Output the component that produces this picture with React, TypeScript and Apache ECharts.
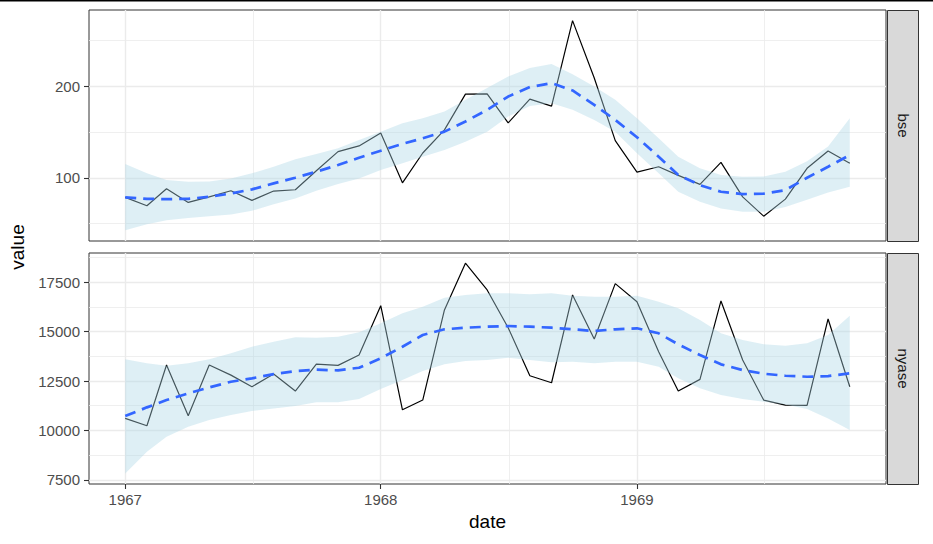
import React, { useEffect, useRef } from "react";
import * as echarts from "echarts";

const DATES = [
  "1967-01-01", "1967-02-01", "1967-03-01", "1967-04-01", "1967-05-01", "1967-06-01",
  "1967-07-01", "1967-08-01", "1967-09-01", "1967-10-01", "1967-11-01", "1967-12-01",
  "1968-01-01", "1968-02-01", "1968-03-01", "1968-04-01", "1968-05-01", "1968-06-01",
  "1968-07-01", "1968-08-01", "1968-09-01", "1968-10-01", "1968-11-01", "1968-12-01",
  "1969-01-01", "1969-02-01", "1969-03-01", "1969-04-01", "1969-05-01", "1969-06-01",
  "1969-07-01", "1969-08-01", "1969-09-01", "1969-10-01", "1969-11-01",
];

const BSE_VALUE = [78.6, 69.4, 88, 73.1, 79.2, 85.8, 75.3, 85.5, 86.9, 107.7, 128.5, 134.7, 148.9, 94.5, 127, 152.2, 191.2, 191.6, 159.8, 185.8, 178.1, 271.4, 208.8, 140.5, 106.2, 112, 102.6, 92.8, 116.8, 79.2, 58.1, 76.7, 110.3, 129.2, 115.8];
const BSE_FIT = [78.6, 77.0, 76.7, 77.0, 79.2, 82.9, 87.3, 93.9, 100, 106.6, 113.9, 121.9, 129.5, 136.9, 143.1, 150.3, 161.3, 174.1, 188.6, 198.9, 203.3, 195.2, 179.5, 163.1, 144.2, 123, 103, 92, 84.7, 82.2, 82.6, 86.5, 100, 112, 124.8];
const BSE_LOWER = [42.8, 49.3, 53.7, 56.2, 58.1, 60, 63.9, 71.2, 77.5, 85.8, 93.1, 99.3, 108.4, 115.8, 123, 130.3, 139.4, 150.3, 166.7, 178.4, 181.4, 174.1, 163.1, 150.3, 126.7, 104.8, 84.7, 73.7, 66.5, 62.8, 62.8, 68, 76, 84, 90.2];
const BSE_UPPER = [115, 104.8, 97.5, 95.6, 95.9, 99.3, 104.8, 112, 120.1, 126, 132.2, 141.2, 150.3, 159.5, 165, 172.2, 185, 197.8, 210.5, 219.7, 224, 213, 199.6, 185, 165, 143.1, 123, 110.3, 103, 101.1, 101.5, 106.6, 118, 134, 165];

const NYASE_VALUE = [10610, 10235, 13310, 10742, 13310, 12800, 12211, 12854, 11993, 13361, 13293, 13817, 16315, 11046, 11537, 16097, 18463, 17110, 15200, 12768, 12414, 16857, 14628, 17429, 16517, 13984, 11993, 12586, 16553, 13564, 11537, 11284, 11267, 15641, 12211];
const NYASE_FIT = [10727, 11168, 11537, 11875, 12179, 12465, 12637, 12854, 13006, 13074, 13042, 13174, 13650, 14237, 14830, 15119, 15200, 15250, 15286, 15250, 15200, 15119, 15033, 15119, 15170, 14916, 14359, 13817, 13346, 13057, 12870, 12768, 12718, 12751, 12890];
const NYASE_LOWER = [7824, 8918, 9678, 10185, 10524, 10777, 10980, 11117, 11233, 11421, 11421, 11588, 12094, 12550, 13006, 13346, 13513, 13564, 13680, 13564, 13447, 13480, 13396, 13480, 13480, 13224, 12637, 12130, 11791, 11588, 11451, 11319, 11081, 10610, 10017];
const NYASE_UPPER = [13599, 13396, 13275, 13396, 13599, 13903, 14237, 14491, 14714, 14694, 14744, 14967, 15423, 15930, 16264, 16720, 16857, 16943, 16943, 16892, 16943, 16821, 16771, 16771, 16821, 16517, 16183, 15590, 14916, 14577, 14359, 14290, 14409, 14830, 15808];

const X_BREAKS = ["1967-01-01", "1968-01-01", "1969-01-01"];
const X_MINOR_BREAKS = ["1967-07-02T12:00:00Z", "1968-07-02T00:00:00Z", "1969-07-02T12:00:00Z"];
const BSE_Y_BREAKS = [100, 200];
const BSE_Y_MINOR = [50, 150, 250];
const BSE_Y_LIMITS = [31, 283];
const NYASE_Y_BREAKS = [7500, 10000, 12500, 15000, 17500];
const NYASE_Y_MINOR = [8750, 11250, 13750, 16250, 18750];
const NYASE_Y_LIMITS = [7290, 18980];
const PANEL_LABELS = ["bse", "nyase"];

const FONT = "Arial, 'Liberation Sans', Helvetica, sans-serif";

export default function App() {
  const ref = useRef<HTMLDivElement>(null);

  useEffect(() => {
    if (!ref.current) return;
    const chart = echarts.init(ref.current, undefined, { renderer: "svg" });

    const times = DATES.map((d) => Date.parse(d));
    const t0 = times[0];
    const t1 = times[times.length - 1];
    const pad = (t1 - t0) * 0.05;
    const XMIN = t0 - pad;
    const XMAX = t1 + pad;
    const xMajor = X_BREAKS.map((d) => Date.parse(d));
    const xMinor = X_MINOR_BREAKS.map((d) => Date.parse(d));

    const pairs = (vals: number[]) => vals.map((v, i) => [times[i], v]);

    const grids = [
      { left: 89, top: 10, width: 797, height: 231 },
      { left: 89, top: 253, width: 797, height: 231 },
    ];

    const majorX = (g: number, show: boolean) => ({
      type: "value",
      gridIndex: g,
      min: XMIN,
      max: XMAX,
      axisLine: { show: false },
      axisTick: {
        show,
        customValues: xMajor,
        length: 5,
        lineStyle: { color: "#333333", width: 1.1 },
      },
      axisLabel: {
        show,
        customValues: xMajor,
        formatter: (v: number) => String(new Date(v).getUTCFullYear()),
        color: "#4D4D4D",
        fontSize: 15,
        fontFamily: FONT,
        margin: 8,
      },
      splitLine: { show: true, lineStyle: { color: "#EBEBEB", width: 1.4 } },
    });
    const minorX = (g: number) => ({
      type: "value",
      gridIndex: g,
      min: XMIN,
      max: XMAX,
      axisLine: { show: false },
      axisTick: { show: false, customValues: xMinor },
      axisLabel: { show: false, customValues: xMinor },
      splitLine: { show: true, lineStyle: { color: "#EBEBEB", width: 0.8 } },
    });
    const majorY = (g: number, lim: number[], breaks: number[]) => ({
      type: "value",
      gridIndex: g,
      min: lim[0],
      max: lim[1],
      position: "left",
      axisLine: { show: false },
      axisTick: {
        show: true,
        customValues: breaks,
        length: 5,
        lineStyle: { color: "#333333", width: 1.1 },
      },
      axisLabel: {
        show: true,
        customValues: breaks,
        formatter: (v: number) => String(v),
        color: "#4D4D4D",
        fontSize: 15,
        fontFamily: FONT,
        margin: 9,
      },
      splitLine: { show: true, lineStyle: { color: "#EBEBEB", width: 1.4 } },
    });
    const minorY = (g: number, lim: number[], breaks: number[]) => ({
      type: "value",
      gridIndex: g,
      min: lim[0],
      max: lim[1],
      position: "right",
      axisLine: { show: false },
      axisTick: { show: false, customValues: breaks },
      axisLabel: { show: false, customValues: breaks },
      splitLine: { show: true, lineStyle: { color: "#EBEBEB", width: 0.8 } },
    });

    const ribbon = (g: number, lo: number[], hi: number[]) => ({
      type: "custom",
      xAxisIndex: 2 * g,
      yAxisIndex: 2 * g,
      silent: true,
      z: 3,
      data: times.map((t, i) => [t, lo[i], hi[i]]),
      encode: { x: 0, y: [1, 2] },
      renderItem: (params: any, api: any) => {
        if (params.dataIndex !== 0) return null;
        const top = times.map((t, i) => api.coord([t, hi[i]]));
        const bottom = times.map((t, i) => api.coord([t, lo[i]])).reverse();
        return {
          type: "polygon",
          shape: { points: top.concat(bottom) },
          style: { fill: "rgba(173, 216, 230, 0.4)", stroke: "none" },
        };
      },
    });

    const panelSeries = (g: number, vals: number[], fit: number[], lo: number[], hi: number[]) => [
      {
        type: "line",
        xAxisIndex: 2 * g,
        yAxisIndex: 2 * g,
        z: 2,
        data: pairs(vals),
        symbol: "none",
        silent: true,
        lineStyle: { color: "#000000", width: 1.2 },
      },
      ribbon(g, lo, hi),
      {
        type: "line",
        xAxisIndex: 2 * g,
        yAxisIndex: 2 * g,
        z: 4,
        data: pairs(fit),
        symbol: "none",
        silent: true,
        lineStyle: { color: "#3366FF", width: 2.7, type: [11, 7], cap: "butt" },
      },
    ];

    const strip = (g: number) => {
      const gr = grids[g];
      return [
        {
          type: "rect",
          shape: { x: 887.5, y: gr.top + 0.5, width: 31, height: gr.height },
          style: { fill: "#D9D9D9", stroke: "#333333", lineWidth: 1 },
          silent: true,
        },
        {
          type: "text",
          x: 903,
          y: gr.top + gr.height / 2,
          rotation: -Math.PI / 2,
          style: {
            text: PANEL_LABELS[g],
            textAlign: "center",
            textVerticalAlign: "middle",
            fontSize: 15,
            fontFamily: FONT,
            fill: "#1A1A1A",
          },
          silent: true,
        },
      ];
    };

    const option = {
      animation: false,
      backgroundColor: "#FFFFFF",
      grid: grids.map((g) => ({
        ...g,
        show: true,
        borderColor: "#333333",
        borderWidth: 1,
        backgroundColor: "#FFFFFF",
        containLabel: false,
      })),
      xAxis: [majorX(0, false), minorX(0), majorX(1, true), minorX(1)],
      yAxis: [
        majorY(0, BSE_Y_LIMITS, BSE_Y_BREAKS),
        minorY(0, BSE_Y_LIMITS, BSE_Y_MINOR),
        majorY(1, NYASE_Y_LIMITS, NYASE_Y_BREAKS),
        minorY(1, NYASE_Y_LIMITS, NYASE_Y_MINOR),
      ],
      series: [
        ...panelSeries(0, BSE_VALUE, BSE_FIT, BSE_LOWER, BSE_UPPER),
        ...panelSeries(1, NYASE_VALUE, NYASE_FIT, NYASE_LOWER, NYASE_UPPER),
      ],
      graphic: [
        {
          type: "rect",
          shape: { x: 0, y: 0, width: 933, height: 1.6 },
          style: { fill: "#000000" },
          silent: true,
        },
        ...strip(0),
        ...strip(1),
        {
          type: "text",
          x: 17,
          y: 247,
          rotation: Math.PI / 2,
          style: {
            text: "value",
            textAlign: "center",
            textVerticalAlign: "middle",
            fontSize: 19,
            fontFamily: FONT,
            fill: "#000000",
          },
          silent: true,
        },
        {
          type: "text",
          x: 487.5,
          y: 521,
          style: {
            text: "date",
            textAlign: "center",
            textVerticalAlign: "middle",
            fontSize: 19,
            fontFamily: FONT,
            fill: "#000000",
          },
          silent: true,
        },
      ],
    };

    chart.setOption(option as any);
    return () => chart.dispose();
  }, []);

  return (
    <div
      ref={ref}
      style={{ position: "fixed", left: 0, top: 0, width: 933, height: 544 }}
    />
  );
}
